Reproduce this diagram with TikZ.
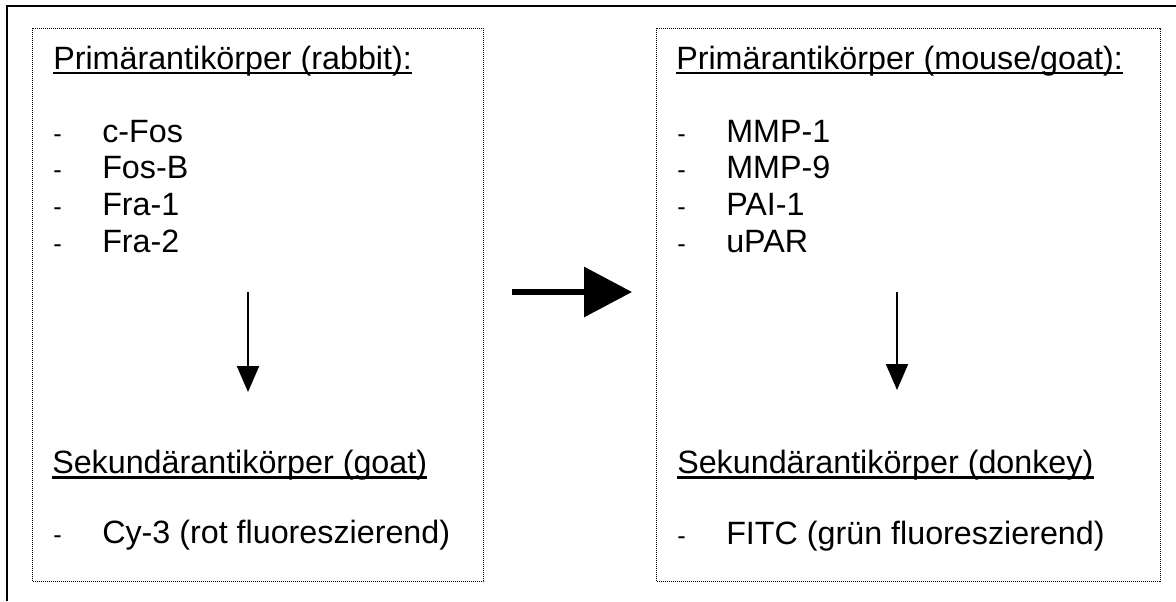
\documentclass[tikz,border=0pt]{standalone}
\usepackage{fontspec}
\setmainfont{Liberation Sans}
\usetikzlibrary{arrows.meta}
\begin{document}
\begin{tikzpicture}[x=0.75pt,y=-0.75pt,
  txt/.style={anchor=base west, inner sep=0pt, font=\fontsize{24.2pt}{29pt}\selectfont},
  bul/.style={anchor=base west, inner sep=0pt, font=\fontsize{19pt}{23pt}\selectfont},
  box/.style={draw, line width=0.9pt, dash pattern=on 0.75pt off 0.75pt, inner sep=0pt, anchor=north west, minimum height=414.75pt},
  frame/.style={line width=1.6pt},
  uline/.style={line width=1.9pt},
  small/.style={line width=1.5pt, -{Triangle[length=19.5pt,width=16.5pt]}},
  big/.style={line width=4pt, -{Triangle[length=36pt,width=37pt]}}]
\useasboundingbox (0,0) rectangle (1176,601);
\draw[frame] (7,601) -- (7,6) -- (1176,6);
% boxes
\node[box, minimum width=338.25pt] (L) at (32,28) {};
\node[box, minimum width=378pt] (R) at (656,28) {};
% left column
\node[txt] (lh1) at (53,69) {Primärantikörper (rabbit):};
\draw[uline] ([yshift=-3pt]lh1.base west) -- ([yshift=-3pt]lh1.base east);
\node[bul] (lb1) at (53,142) {-}; \node[txt] (li1) at (102,142) {c-Fos};
\node[bul] (lb2) at (53,178.7) {-}; \node[txt] (li2) at (102,178.7) {Fos-B};
\node[bul] (lb3) at (53,215.4) {-}; \node[txt] (li3) at (102,215.4) {Fra-1};
\node[bul] (lb4) at (53,252) {-}; \node[txt] (li4) at (102,252) {Fra-2};
\node[txt] (lh2) at (52,473) {Sekundärantikörper (goat)};
\draw[uline] ([yshift=-3.4pt]lh2.base west) -- ([yshift=-3.4pt]lh2.base east);
\node[bul] (lb5) at (53,543) {-}; \node[txt] (li5) at (102,543) {Cy-3 (rot fluoreszierend)};
% right column
\node[txt] (rh1) at (676,69) {Primärantikörper (mouse/goat):};
\draw[uline] ([yshift=-3pt]rh1.base west) -- ([yshift=-3pt]rh1.base east);
\node[bul] (rb1) at (677,142) {-}; \node[txt] (ri1) at (726,142) {MMP-1};
\node[bul] (rb2) at (677,178.7) {-}; \node[txt] (ri2) at (726,178.7) {MMP-9};
\node[bul] (rb3) at (677,215.4) {-}; \node[txt] (ri3) at (726,215.4) {PAI-1};
\node[bul] (rb4) at (677,252) {-}; \node[txt] (ri4) at (726,252) {uPAR};
\node[txt] (rh2) at (677,473) {Sekundärantikörper (donkey)};
\draw[uline] ([yshift=-3.4pt]rh2.base west) -- ([yshift=-3.4pt]rh2.base east);
\node[bul] (rb5) at (677,544) {-}; \node[txt] (ri5) at (726,544) {FITC (grün fluoreszierend)};
% arrows
\coordinate (a1s) at (248,292); \coordinate (a1e) at (248,392);
\draw[small] (a1s) -- (a1e);
\coordinate (a2s) at (897,292); \coordinate (a2e) at (897,390);
\draw[small] (a2s) -- (a2e);
\coordinate (bs) at (512,292); \coordinate (be) at (632,292);
\draw[big] (bs) -- (be);
\end{tikzpicture}
\end{document}
